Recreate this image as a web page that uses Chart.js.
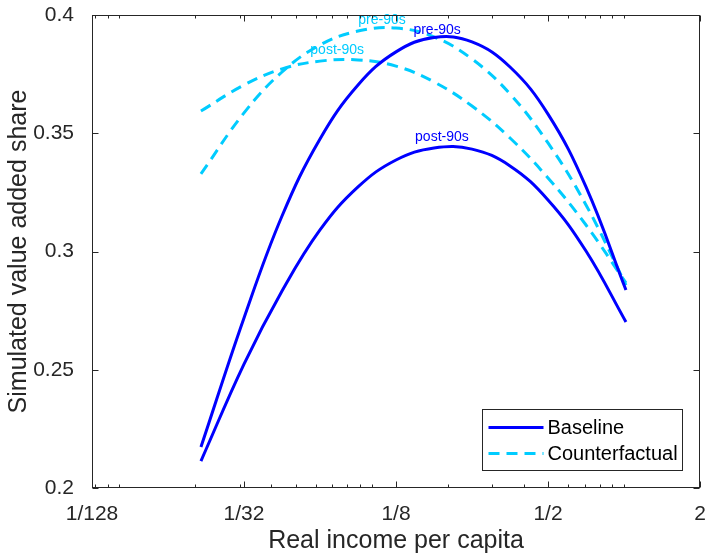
<!DOCTYPE html>
<html>
<head>
<meta charset="utf-8">
<script src="https://cdn.jsdelivr.net/npm/chart.js@4"></script>
<style>
  html, body { margin: 0; background: #fff; }
  #wrap { width: 707px; height: 558px; }
</style>
</head>
<body>
<div id="wrap"><canvas id="chart"></canvas></div>
<script>
// real income per capita (x) and simulated value added shares
const income = [0.0211, 0.03125, 0.0442, 0.0625, 0.0884, 0.125, 0.1768, 0.25, 0.3536, 0.5, 0.7071, 1.018];
const basePre = [0.2173, 0.2719, 0.3150, 0.3476, 0.3704, 0.3844, 0.3905, 0.3886, 0.3780, 0.3581, 0.3273, 0.2837];
const basePost = [0.2114, 0.2524, 0.2833, 0.3091, 0.3273, 0.3387, 0.3438, 0.3433, 0.3362, 0.3218, 0.3002, 0.2702];
const cfPre = [0.3328, 0.3586, 0.3759, 0.3873, 0.3932, 0.3945, 0.3907, 0.3814, 0.3666, 0.3459, 0.3197, 0.2858];
const cfPost = [0.3594, 0.3704, 0.3772, 0.3805, 0.3810, 0.3784, 0.3717, 0.3615, 0.3480, 0.3311, 0.3112, 0.2867];

const xTicks = [1 / 128, 1 / 32, 1 / 8, 1 / 2, 2];
const xTickLabels = ['1/128', '1/32', '1/8', '1/2', '2'];
const xMinorTicks = [0.008, 0.009, 0.01, 0.02, 0.03, 0.04, 0.05, 0.06, 0.07, 0.08, 0.09, 0.1, 0.2, 0.3, 0.4, 0.6, 0.7, 0.8, 0.9, 1];
const yTicks = [0.2, 0.25, 0.3, 0.35, 0.4];

// period labels placed near the peaks (data coordinates)
const periodLabels = [
  { text: 'pre-90s', x: 0.110, y: 0.3979, color: '#00ccff' },
  { text: 'post-90s', x: 0.0731, y: 0.3852, color: '#00ccff' },
  { text: 'pre-90s', x: 0.1819, y: 0.3937, color: '#0000ff' },
  { text: 'post-90s', x: 0.190, y: 0.3484, color: '#0000ff' }
];

const BLUE = '#0000ff';
const CYAN = '#00ccff';
const AXIS = '#262626';
const FONT = 'Liberation Sans, Arial, Helvetica, sans-serif';

function pts(ys) {
  return income.map((x, i) => ({ x: x, y: ys[i] }));
}

const framePlugin = {
  id: 'frame',
  afterDraw(chart) {
    const ctx = chart.ctx;
    const { left, right, top, bottom } = chart.chartArea;
    const xs = chart.scales.x, ys = chart.scales.y;
    ctx.save();

    // period labels
    ctx.font = '14px ' + FONT;
    ctx.textAlign = 'center';
    ctx.textBaseline = 'middle';
    periodLabels.forEach(l => {
      ctx.fillStyle = l.color;
      ctx.fillText(l.text, xs.getPixelForValue(l.x), ys.getPixelForValue(l.y));
    });

    // box and inward ticks
    ctx.strokeStyle = AXIS;
    ctx.lineWidth = 1;
    const L = Math.round(left) + 0.5, R = Math.round(right) - 0.5;
    const T = Math.round(top) + 0.5, B = Math.round(bottom) - 0.5;
    ctx.strokeRect(L, T, R - L, B - T);
    ctx.beginPath();
    xTicks.forEach(v => {
      const p = Math.round(xs.getPixelForValue(v)) + 0.5;
      ctx.moveTo(p, B); ctx.lineTo(p, B - 6);
      ctx.moveTo(p, T); ctx.lineTo(p, T + 6);
    });
    xMinorTicks.forEach(v => {
      const p = Math.round(xs.getPixelForValue(v)) + 0.5;
      ctx.moveTo(p, B); ctx.lineTo(p, B - 3);
      ctx.moveTo(p, T); ctx.lineTo(p, T + 3);
    });
    yTicks.forEach(v => {
      const p = Math.round(ys.getPixelForValue(v)) + 0.5;
      ctx.moveTo(L, p); ctx.lineTo(L + 6, p);
      ctx.moveTo(R, p); ctx.lineTo(R - 6, p);
    });
    ctx.stroke();

    // legend
    const bx = 482.5, by = 409.5, bw = 200, bh = 61;
    ctx.fillStyle = '#fff';
    ctx.fillRect(bx, by, bw, bh);
    ctx.strokeRect(bx, by, bw, bh);
    const items = chart.data.datasets.filter(d => d.legend);
    items.forEach((d, i) => {
      const yy = by + 18 + i * 26;
      ctx.strokeStyle = d.borderColor;
      ctx.lineWidth = d.borderWidth;
      ctx.setLineDash(d.borderDash || []);
      ctx.beginPath();
      ctx.moveTo(bx + 6, yy);
      ctx.lineTo(bx + 61, yy);
      ctx.stroke();
      ctx.setLineDash([]);
      ctx.fillStyle = '#000';
      ctx.font = '20px ' + FONT;
      ctx.textAlign = 'left';
      ctx.textBaseline = 'middle';
      ctx.fillText(d.legend, bx + 65, yy + 1);
    });
    ctx.restore();
  }
};

const chart = new Chart(document.getElementById('chart'), {
  type: 'line',
  data: {
    datasets: [
      { label: 'Baseline pre-90s', legend: 'Baseline', data: pts(basePre), borderColor: BLUE, borderWidth: 3 },
      { label: 'Baseline post-90s', data: pts(basePost), borderColor: BLUE, borderWidth: 3 },
      { label: 'Counterfactual pre-90s', legend: 'Counterfactual', data: pts(cfPre), borderColor: CYAN, borderWidth: 3, borderDash: [11, 7] },
      { label: 'Counterfactual post-90s', data: pts(cfPost), borderColor: CYAN, borderWidth: 3, borderDash: [11, 7] }
    ]
  },
  options: {
    responsive: true,
    maintainAspectRatio: false,
    animation: false,
    layout: { padding: { top: 15, right: 7, left: 0, bottom: 0 } },
    elements: {
      point: { radius: 0 },
      line: { tension: 0.4, fill: false }
    },
    plugins: {
      legend: { display: false },
      tooltip: { enabled: false }
    },
    scales: {
      x: {
        type: 'logarithmic',
        min: 1 / 128,
        max: 2,
        grid: { display: false },
        border: { display: false },
        afterBuildTicks: s => { s.ticks = xTicks.map(v => ({ value: v })); },
        afterFit: s => { s.height = 70; s.paddingLeft = 0; s.paddingRight = 0; },
        ticks: {
          autoSkip: false,
          maxRotation: 0,
          padding: 6,
          color: AXIS,
          font: { family: FONT, size: 21 },
          callback: (v, i) => xTickLabels[i]
        },
        title: {
          display: true,
          text: 'Real income per capita',
          color: AXIS,
          font: { family: FONT, size: 25 },
          padding: { top: 0, bottom: 2 }
        }
      },
      y: {
        min: 0.2,
        max: 0.4,
        grid: { display: false },
        border: { display: false },
        afterBuildTicks: s => { s.ticks = yTicks.map(v => ({ value: v })); },
        afterFit: s => { s.width = 92; s.paddingTop = 0; s.paddingBottom = 0; },
        ticks: {
          padding: 10,
          color: AXIS,
          font: { family: FONT, size: 21 },
          callback: v => String(v)
        },
        title: {
          display: true,
          text: 'Simulated value added share',
          color: AXIS,
          font: { family: FONT, size: 25 },
          padding: { top: 4, bottom: 0 }
        }
      }
    }
  },
  plugins: [framePlugin]
});
</script>
</body>
</html>
